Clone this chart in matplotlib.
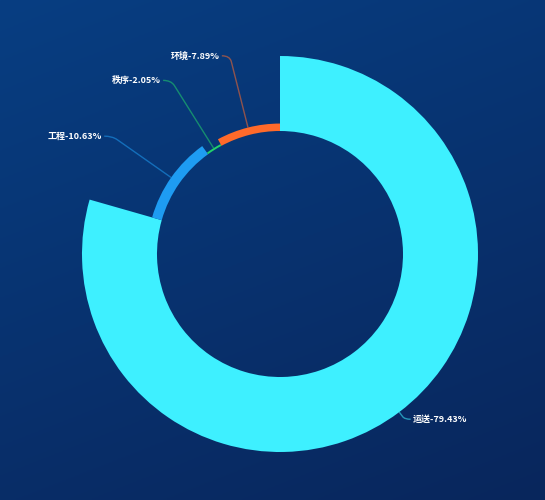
import numpy as np
import matplotlib
matplotlib.use("Agg")
import matplotlib.pyplot as plt
from matplotlib.patches import Wedge, PathPatch
from matplotlib.path import Path

plt.rcParams["font.family"] = ["Noto Sans CJK SC", "DejaVu Sans"]

# ── Data ─────────────────────────────────────────────
categories = ["运送", "工程", "秩序", "环境"]
values = [79.43, 10.63, 2.05, 7.89]
colors = ["#3EF0FF", "#1E9CF2", "#22D36A", "#FF6A2A"]

# ── Layout (pixel space, y up) ───────────────────────
W, H = 545, 500
CX, CY = 280, 246
R_IN, R_OUT = 123, 198
LEN1 = [9, 72, 80, 74]      # radial label-line length per slice
LEN2 = [6, 8, 8, 8]         # horizontal label-line length

fig = plt.figure(figsize=(W / 100, H / 100), dpi=100)
ax = fig.add_axes([0, 0, 1, 1])
ax.set_xlim(0, W)
ax.set_ylim(0, H)
ax.set_aspect("equal")
ax.axis("off")

# background gradient: lighter top-left, darker bottom
yy, xx = np.mgrid[0:1:200j, 0:1:200j]
t = np.clip(0.7 * yy + 0.3 * xx, 0, 1)  # row 0 = top (origin upper)
top = np.array([7, 62, 130]) / 255
bot = np.array([9, 38, 92]) / 255
grad = top * (1 - t[..., None]) + bot * t[..., None]
ax.imshow(grad, extent=[0, W, 0, H], origin="upper", zorder=0, aspect="auto")

total = sum(values)
vmax = max(values)
start = 0.0
for i, (cat, val, col) in enumerate(zip(categories, values, colors)):
    frac = val / total
    a_end = 90 - start * 360
    a_start = 90 - (start + frac) * 360
    r = R_IN + (R_OUT - R_IN) * val / vmax
    ax.add_patch(Wedge((CX, CY), r, a_start, a_end, width=r - R_IN,
                       facecolor=col, edgecolor="none", zorder=2))

    # label line
    mid = np.deg2rad(90 - (start + frac / 2) * 360)
    p0 = np.array([CX + r * np.cos(mid), CY + r * np.sin(mid)])
    p1 = p0 + LEN1[i] * np.array([np.cos(mid), np.sin(mid)])
    side = 1 if np.cos(mid) >= 0 else -1
    p2 = p1 + np.array([side * LEN2[i], 0])
    # smooth corner
    q0 = p1 + (p0 - p1) * min(0.35, 6 / LEN1[i] if LEN1[i] > 6 else 0.5)
    path = Path([p0, q0, p1, p2],
                [Path.MOVETO, Path.LINETO, Path.CURVE3, Path.CURVE3])
    ax.add_patch(PathPatch(path, facecolor="none", edgecolor=col,
                           alpha=0.55, linewidth=1.0, zorder=3))
    ax.text(p2[0] + side * 2, p2[1], f"{cat}-{val:.2f}%", color="white",
            fontsize=6.5, fontweight="bold",
            ha="left" if side > 0 else "right", va="center", zorder=4)
    start += frac

fig.savefig("out.png", dpi=100)
